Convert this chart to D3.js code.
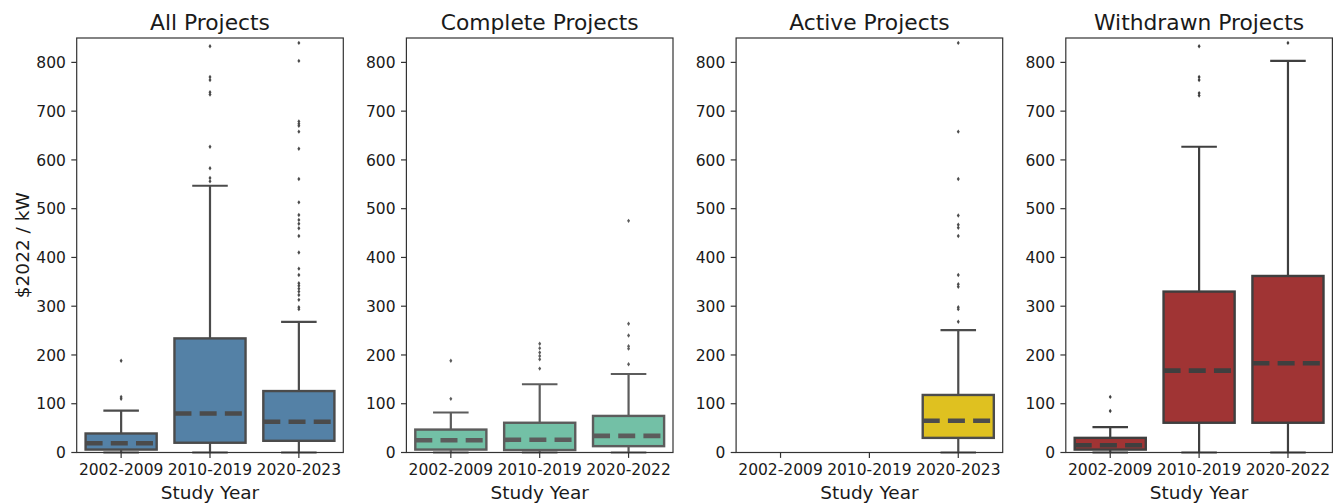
<!DOCTYPE html>
<html>
<head>
<meta charset="utf-8">
<script src="https://cdn.jsdelivr.net/npm/d3@7"></script>
<style>
  html, body { margin: 0; padding: 0; background: #fff; }
  svg { display: block; font-family: "DejaVu Sans", sans-serif; }
</style>
</head>
<body>
<svg id="chart" width="1336" height="504"></svg>
<script>
// ---------- data ----------
const panelTitles = ["All Projects", "Complete Projects", "Active Projects", "Withdrawn Projects"];
const yTicks = [0, 100, 200, 300, 400, 500, 600, 700, 800];

// All Projects
const allCats = ["2002-2009", "2010-2019", "2020-2023"];
const allLow = [0, 0, 0];
const allQ1 = [6, 20, 24];
const allMed = [19, 80, 63];
const allQ3 = [39, 234, 126];
const allHigh = [86, 547, 268];
const allOut = [
  [188, 114, 110],
  [833, 770, 764, 739, 734, 627, 583, 563, 556],
  [840, 803, 679, 674, 670, 658, 623, 561, 513, 487, 477, 469, 460, 444, 410, 377, 364, 347, 342, 336, 330, 323, 313, 298, 294]
];

// Complete Projects
const completeCats = ["2002-2009", "2010-2019", "2020-2022"];
const completeLow = [0, 0, 0];
const completeQ1 = [6, 5, 13];
const completeMed = [25, 26, 34];
const completeQ3 = [47, 61, 75];
const completeHigh = [82, 140, 161];
const completeOut = [
  [188, 110],
  [223, 214, 205, 198, 191, 172],
  [475, 264, 240, 218, 213, 181]
];

// Active Projects (only the latest study period has data)
const activeCats = ["2002-2009", "2010-2019", "2020-2023"];
const activeLow = [null, null, 0];
const activeQ1 = [null, null, 30];
const activeMed = [null, null, 65];
const activeQ3 = [null, null, 118];
const activeHigh = [null, null, 251];
const activeOut = [
  [],
  [],
  [840, 658, 561, 486, 467, 461, 444, 364, 345, 340, 298, 294, 268]
];

// Withdrawn Projects
const withdrawnCats = ["2002-2009", "2010-2019", "2020-2022"];
const withdrawnLow = [0, 0, 0];
const withdrawnQ1 = [6, 61, 61];
const withdrawnMed = [15, 168, 183];
const withdrawnQ3 = [30, 330, 362];
const withdrawnHigh = [52, 627, 803];
const withdrawnOut = [
  [114, 85],
  [833, 770, 764, 737, 732],
  [840]
];

const panelColors = ["#5481a6", "#73c0a6", "#dfc120", "#a03434"];
const panelLineColors = ["#4b4b4b", "#5c5c5c", "#4c4c4c", "#3f3f3f"];

const panels = [
  { cats: allCats, low: allLow, q1: allQ1, med: allMed, q3: allQ3, high: allHigh, out: allOut },
  { cats: completeCats, low: completeLow, q1: completeQ1, med: completeMed, q3: completeQ3, high: completeHigh, out: completeOut },
  { cats: activeCats, low: activeLow, q1: activeQ1, med: activeMed, q3: activeQ3, high: activeHigh, out: activeOut },
  { cats: withdrawnCats, low: withdrawnLow, q1: withdrawnQ1, med: withdrawnMed, q3: withdrawnQ3, high: withdrawnHigh, out: withdrawnOut }
];

// ---------- layout ----------
const svg = d3.select("#chart");
const plotTop = 38, plotBottom = 452.5;
const panelW = 266.6, firstLeft = 76.7, gap = 63.1;
const tickLen = 5.4, tickPad = 5.4;
const spineColor = "#333";
const textColor = "#1a1a1a";

const y = d3.scaleLinear().domain([0, 850]).range([plotBottom, plotTop]);

panels.forEach((p, pi) => {
  const left = firstLeft + pi * (panelW + gap);
  const right = left + panelW;
  const x = d3.scaleBand().domain(p.cats).range([left, right]).padding(0);
  const bw = x.bandwidth() * 0.8;
  const capW = bw / 2;
  const lc = panelLineColors[pi];
  const g = svg.append("g");

  // boxes
  p.cats.forEach((c, i) => {
    if (p.q1[i] == null) return;
    const cx = x(c) + x.bandwidth() / 2;
    const bx = cx - bw / 2;
    // whiskers
    g.append("line").attr("x1", cx).attr("x2", cx).attr("y1", y(p.q3[i])).attr("y2", y(p.high[i]))
      .attr("stroke", lc).attr("stroke-width", 2.2);
    g.append("line").attr("x1", cx).attr("x2", cx).attr("y1", y(p.q1[i])).attr("y2", y(p.low[i]))
      .attr("stroke", lc).attr("stroke-width", 2.2);
    // caps
    [p.high[i], p.low[i]].forEach(v => {
      g.append("line").attr("x1", cx - capW / 2).attr("x2", cx + capW / 2)
        .attr("y1", y(v)).attr("y2", y(v)).attr("stroke", lc).attr("stroke-width", 2.2);
    });
    // box
    g.append("rect").attr("x", bx).attr("y", y(p.q3[i]))
      .attr("width", bw).attr("height", y(p.q1[i]) - y(p.q3[i]))
      .attr("fill", panelColors[pi]).attr("stroke", lc).attr("stroke-width", 2.4);
    // median (dashed)
    g.append("line").attr("x1", bx).attr("x2", bx + bw)
      .attr("y1", y(p.med[i])).attr("y2", y(p.med[i]))
      .attr("stroke", lc).attr("stroke-width", 4.6)
      .attr("stroke-dasharray", "17,8.2");
    // outliers (thin diamonds)
    p.out[i].forEach(v => {
      const py = y(v);
      g.append("path")
        .attr("d", `M${cx},${py - 2.2}L${cx + 1.5},${py}L${cx},${py + 2.2}L${cx - 1.5},${py}Z`)
        .attr("fill", lc);
    });
  });

  // spines
  g.append("rect").attr("x", left).attr("y", plotTop).attr("width", panelW).attr("height", plotBottom - plotTop)
    .attr("fill", "none").attr("stroke", spineColor).attr("stroke-width", 1.2);

  // y axis ticks
  yTicks.forEach(t => {
    g.append("line").attr("x1", left - tickLen).attr("x2", left).attr("y1", y(t)).attr("y2", y(t))
      .attr("stroke", spineColor).attr("stroke-width", 1.2);
    g.append("text").attr("x", left - tickLen - tickPad).attr("y", y(t) + 5.6)
      .attr("text-anchor", "end").attr("font-size", 15.5).attr("fill", textColor).text(t);
  });

  // x axis ticks
  p.cats.forEach(c => {
    const cx = x(c) + x.bandwidth() / 2;
    g.append("line").attr("x1", cx).attr("x2", cx).attr("y1", plotBottom).attr("y2", plotBottom + tickLen)
      .attr("stroke", spineColor).attr("stroke-width", 1.2);
    g.append("text").attr("x", cx).attr("y", 474.8)
      .attr("text-anchor", "middle").attr("font-size", 15.5).attr("fill", textColor).text(c);
  });

  // titles
  g.append("text").attr("x", (left + right) / 2).attr("y", 29.5)
    .attr("text-anchor", "middle").attr("font-size", 21.8).attr("fill", textColor).text(panelTitles[pi]);
  g.append("text").attr("x", (left + right) / 2).attr("y", 499)
    .attr("text-anchor", "middle").attr("font-size", 18.5).attr("fill", textColor).text("Study Year");
});

// y label
svg.append("text").attr("transform", `translate(28.5,${(plotTop + plotBottom) / 2}) rotate(-90)`)
  .attr("text-anchor", "middle").attr("font-size", 18.5).attr("fill", textColor).text("$2022 / kW");
</script>
</body>
</html>
